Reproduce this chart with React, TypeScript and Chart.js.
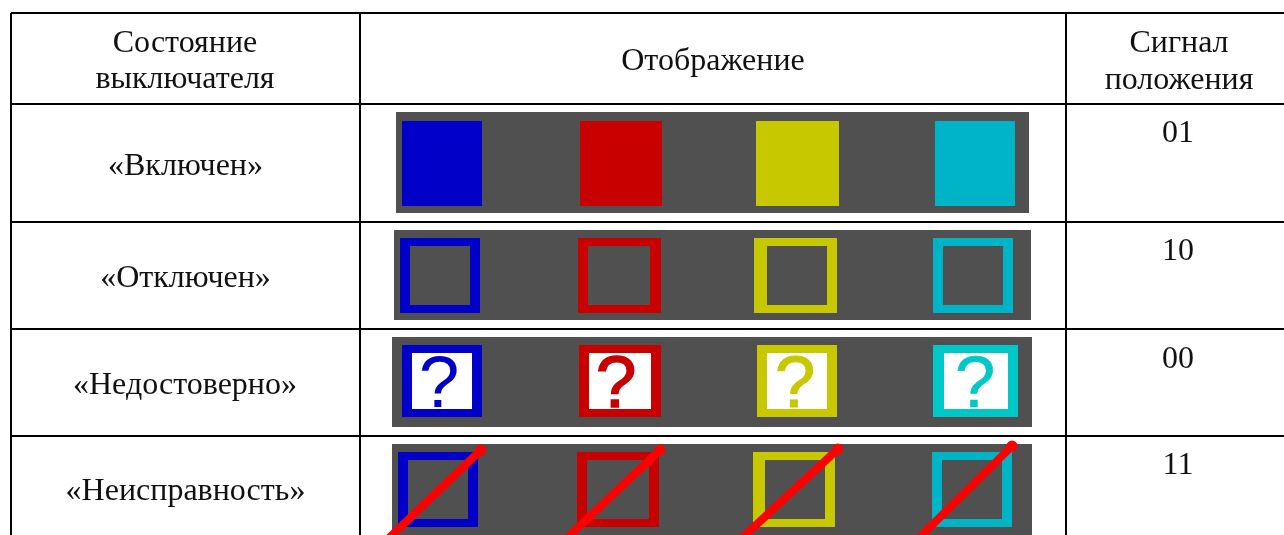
import React, { useEffect, useRef } from "react";
import { Chart, registerables } from "chart.js";

Chart.register(...registerables);

// ---- content ----
const headerState = ["Состояние", "выключателя"];
const headerView = ["Отображение"];
const headerSignal = ["Сигнал", "положения"];
const states = ["«Включен»", "«Отключен»", "«Недостоверно»", "«Неисправность»"];
const signals = ["01", "10", "00", "11"];
const questionMark = "?";

// ---- colours ----
const PANEL = "#505050";
const colorsByRow = [
  ["#0000C8", "#C80000", "#C8C800", "#00B4C8"],
  ["#0000C8", "#C80000", "#C8C800", "#00B4C8"],
  ["#0000C8", "#C80000", "#C8C800", "#00C8C8"],
  ["#0000C8", "#C80000", "#C8C800", "#00B4C8"],
];

// ---- table geometry, in page pixels ----
const columnRules = [11, 360, 1066];
const rowRules = [13, 104, 222, 329, 436];

// panel: [left, right, top, bottom]
const panels = [
  [396, 1029, 112, 213],
  [394, 1031, 230, 320],
  [392, 1032, 337, 427],
  [392, 1032, 444, 540],
];
// outer square spans for each row: [left, right]
const outerX = [
  [[402, 482], [580, 662], [756, 839], [935, 1015]],
  [[400, 480], [578, 661], [754, 837], [933, 1013]],
  [[402, 482], [579, 661], [757, 837], [933, 1018]],
  [[398, 478], [577, 659], [753, 835], [932, 1012]],
];
const outerY = [
  [121, 206],
  [238, 313],
  [345, 417],
  [452, 527],
];
const innerX = [
  null,
  [[410, 470], [588, 650], [767, 827], [943, 1003]],
  [[412, 472], [589, 651], [767, 827], [944, 1008]],
  [[408, 468], [587, 649], [765, 825], [942, 1002]],
];
const innerY = [null, [246, 305], [353, 409], [460, 519]];
const innerFill = [null, PANEL, "#FFFFFF", PANEL];

// slashes through the "fault" symbols: [x0, y0, x1, y1]
const slashes = [
  [389, 538, 481, 450],
  [567, 538, 660, 450],
  [742, 538, 838, 449],
  [919, 538, 1012, 446],
];
const questionCenters = [439, 616, 795, 975];
const questionStroke = [0, 1.5, 1, 0.5];
const QUESTION_BASELINE = 407;

// text anchors: [centre x, baseline y]
const headerStatePos = [[185, 52], [185, 88]];
const headerViewPos = [[713, 70]];
const headerSignalPos = [[1179, 52], [1179, 89]];
const statePos = [[185.5, 175], [185.5, 287], [185, 394], [185.5, 500]];
const signalPos = [[1178, 142], [1178, 260], [1178, 368], [1178, 474]];

type Rect = { l: number; r: number; t: number; b: number; color: string };

function buildRects(): Rect[] {
  const rects: Rect[] = [];
  panels.forEach(([l, r, t, b]) => rects.push({ l, r, t, b, color: PANEL }));
  outerX.forEach((row, i) => {
    row.forEach(([l, r], j) => {
      rects.push({ l, r, t: outerY[i][0], b: outerY[i][1], color: colorsByRow[i][j] });
      const ix = innerX[i];
      const iy = innerY[i];
      if (ix && iy) {
        rects.push({ l: ix[j][0], r: ix[j][1], t: iy[0], b: iy[1], color: innerFill[i] as string });
      }
    });
  });
  return rects;
}

const tablePlugin = {
  id: "tableText",
  afterDatasetsDraw(chart: any) {
    const { ctx, scales } = chart;
    const put = (text: string, p: number[], font: string, color: string, stroke = 0) => {
      ctx.font = font;
      ctx.fillStyle = color;
      ctx.textAlign = "center";
      ctx.textBaseline = "alphabetic";
      const px = scales.x.getPixelForValue(p[0]);
      const py = scales.y.getPixelForValue(p[1]);
      ctx.fillText(text, px, py);
      if (stroke > 0) {
        ctx.strokeStyle = color;
        ctx.lineWidth = stroke;
        ctx.strokeText(text, px, py);
      }
    };
    const serif = '32px "Liberation Serif"';
    const ink = "#111111";
    ctx.save();
    headerState.forEach((t, i) => put(t, headerStatePos[i], serif, ink));
    headerView.forEach((t, i) => put(t, headerViewPos[i], serif, ink));
    headerSignal.forEach((t, i) => put(t, headerSignalPos[i], serif, ink));
    states.forEach((t, i) => put(t, statePos[i], serif, ink));
    signals.forEach((t, i) => put(t, signalPos[i], serif, ink));
    questionCenters.forEach((x, j) => {
      put(questionMark, [x, QUESTION_BASELINE], '73px "Liberation Sans"', colorsByRow[2][j], questionStroke[j]);
    });
    ctx.restore();
  },
};

export default function App() {
  const ref = useRef<HTMLCanvasElement>(null);
  useEffect(() => {
    const rects = buildRects();
    const total = rects.length + slashes.length;
    const barSets = rects.map((rc, i) => ({
      type: "bar" as const,
      indexAxis: "y" as const,
      grouped: false,
      barThickness: rc.b - rc.t,
      data: [{ x: [rc.l, rc.r], y: (rc.t + rc.b) / 2 }],
      backgroundColor: rc.color,
      borderWidth: 0,
      inflateAmount: 0,
      clip: false,
      order: total - i + 10,
    }));
    const lineSets = slashes.map(([x0, y0, x1, y1], i) => ({
      type: "line" as const,
      data: [{ x: x0, y: y0 }, { x: x1, y: y1 }],
      borderColor: "#FF0000",
      backgroundColor: "#FF0000",
      borderWidth: 8,
      borderCapStyle: "round" as const,
      pointRadius: [0, 5.5],
      pointBorderWidth: 0,
      pointHoverRadius: 0,
      fill: false,
      order: i,
    }));
    const chart = new Chart(ref.current as HTMLCanvasElement, {
      type: "scatter",
      data: { datasets: [...barSets, ...lineSets] as any },
      plugins: [tablePlugin],
      options: {
        animation: false,
        responsive: false,
        devicePixelRatio: 1,
        layout: { autoPadding: false, padding: { left: columnRules[0], top: rowRules[0], right: 0, bottom: 0 } },
        plugins: { legend: { display: false }, title: { display: false }, tooltip: { enabled: false } },
        scales: {
          x: {
            type: "linear",
            min: columnRules[0],
            max: 1284,
            offset: false,
            beginAtZero: false,
            afterBuildTicks: (s: any) => {
              s.ticks = columnRules.map((value) => ({ value }));
            },
            ticks: { display: false },
            border: { display: false },
            grid: { offset: false, color: "#000000", lineWidth: 2, drawTicks: false, tickLength: 0 },
          },
          y: {
            type: "linear",
            reverse: true,
            min: rowRules[0],
            max: 535,
            offset: false,
            beginAtZero: false,
            afterBuildTicks: (s: any) => {
              s.ticks = rowRules.map((value) => ({ value }));
            },
            ticks: { display: false },
            border: { display: false },
            grid: { offset: false, color: "#000000", lineWidth: 2, drawTicks: false, tickLength: 0 },
          },
        },
      },
    });
    return () => chart.destroy();
  }, []);
  return (
    <div style={{ position: "fixed", left: 0, top: 0, width: 1284, height: 535, background: "#FFFFFF" }}>
      <canvas ref={ref} width={1284} height={535} style={{ display: "block" }} />
    </div>
  );
}
